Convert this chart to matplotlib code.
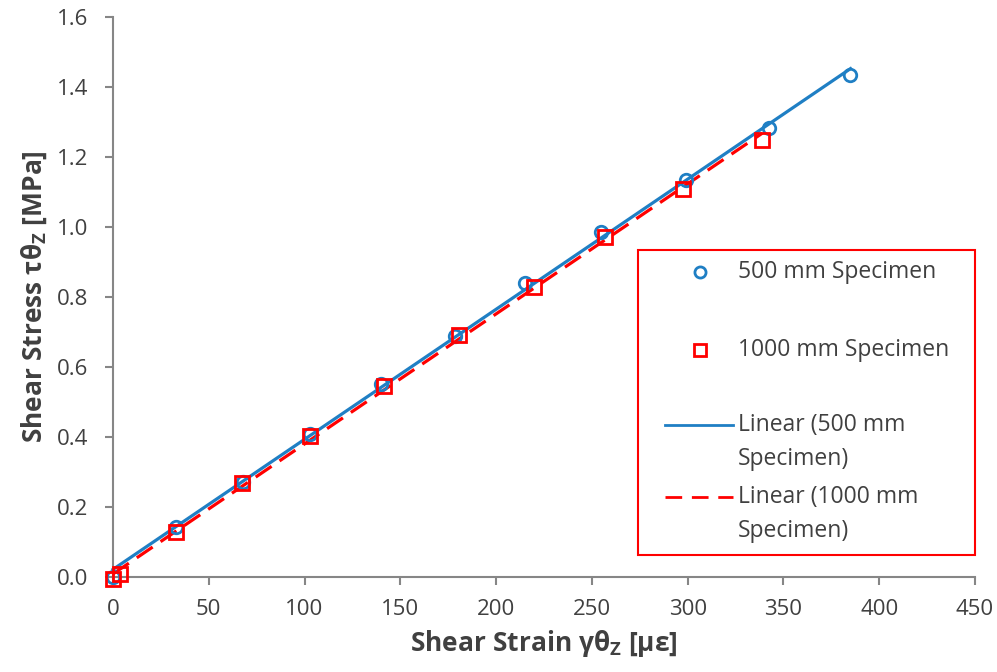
import numpy as np
import matplotlib
matplotlib.use("Agg")
import matplotlib.pyplot as plt
from matplotlib.lines import Line2D
from matplotlib.patches import Rectangle

plt.rcParams['font.family'] = ['Open Sans', 'DejaVu Sans']
plt.rcParams['mathtext.fontset'] = 'custom'
plt.rcParams['mathtext.rm'] = 'Open Sans:bold'
plt.rcParams['mathtext.default'] = 'rm'

strain_500 = [0, 33, 68, 103, 140, 178.5, 215, 255, 299, 342.5, 385]
stress_500 = [0.0, 0.143, 0.272, 0.41, 0.55, 0.69, 0.84, 0.986, 1.134, 1.283, 1.434]
strain_1000 = [0, 3.7, 33, 67.5, 103, 141.5, 180.5, 220, 257, 297.5, 339]
stress_1000 = [-0.005, 0.008, 0.13, 0.268, 0.403, 0.546, 0.691, 0.829, 0.971, 1.109, 1.249]

legend_labels = ['500 mm Specimen', '1000 mm Specimen', 'Linear (500 mm\nSpecimen)',
                 'Linear (1000 mm\nSpecimen)']

blue = '#1f7fc4'
red = '#ff0000'
text_c = '#404040'
dash = (6, 3)

W, H = 997, 672
fig = plt.figure(figsize=(W/100, H/100), dpi=100)
L, R, T, B = 113, 975, 17, 577
ax = fig.add_axes([L/W, 1-B/H, (R-L)/W, (B-T)/H])

ax.plot(strain_500, stress_500, linestyle='none', marker='o', ms=9, mfc='none',
        mec=blue, mew=2, zorder=3)
ax.plot(strain_1000, stress_1000, linestyle='none', marker='s', ms=10, mfc='none',
        mec=red, mew=2, zorder=3)

c5 = np.polyfit(strain_500, stress_500, 1)
c10 = np.polyfit(strain_1000, stress_1000, 1)
x5 = np.array([0, max(strain_500)])
x10 = np.array([0, max(strain_1000)])
ax.plot(x5, np.polyval(c5, x5), color=blue, lw=2.3, zorder=2)
ax.plot(x10, np.polyval(c10, x10), color=red, lw=2.3, dashes=dash, zorder=2)

ax.set_xlim(0, 450)
ax.set_ylim(0, 1.6)
ax.set_xticks(np.arange(0, 451, 50))
ax.set_yticks(np.arange(0, 1.61, 0.2))
ax.set_yticklabels([f'{v:.1f}' for v in np.arange(0, 1.61, 0.2)])
for s in ['top', 'right']:
    ax.spines[s].set_visible(False)
for s in ['left', 'bottom']:
    ax.spines[s].set_color('#868686')
    ax.spines[s].set_linewidth(1.5)
ax.tick_params(axis='both', colors='#868686', labelcolor=text_c, labelsize=16,
               length=5.8, width=1.5)
ax.tick_params(axis='x', pad=10)
ax.tick_params(axis='y', pad=12)
for l in ax.lines:
    l.set_clip_on(False)

ax.set_xlabel('Shear Strain γθ$_Z$ [με]', fontsize=19, fontweight='bold', color=text_c, labelpad=6)
ax.set_ylabel('Shear Stress τθ$_Z$ [MPa]', fontsize=19, fontweight='bold', color=text_c, labelpad=6)

# manual legend (Excel-style, evenly spaced entries)
def ax_xy(px, py):
    return (px - L) / (R - L), (B - py) / (B - T)

fx0, fy0 = ax_xy(638, 555)
fx1, fy1 = ax_xy(975, 250)
ax.add_patch(Rectangle((fx0, fy0), fx1 - fx0, fy1 - fy0, transform=ax.transAxes,
                       fill=True, facecolor='white', edgecolor=red, lw=1.5,
                       zorder=5, clip_on=False))
row_y = [272, 350, 425, 497]
line_gap = 34
hx, _ = ax_xy(700, 0)
lx0, _ = ax_xy(665, 0)
lx1, _ = ax_xy(733, 0)
tx, _ = ax_xy(738, 0)
for i, (lab, py) in enumerate(zip(legend_labels, row_y)):
    _, yy = ax_xy(0, py)
    if i == 0:
        ax.add_line(Line2D([hx], [yy], transform=ax.transAxes, linestyle='none',
                           marker='o', ms=8, mfc='none', mec=blue, mew=2, zorder=6,
                           clip_on=False))
    elif i == 1:
        ax.add_line(Line2D([hx], [yy], transform=ax.transAxes, linestyle='none',
                           marker='s', ms=8, mfc='none', mec=red, mew=2, zorder=6,
                           clip_on=False))
    elif i == 2:
        ax.add_line(Line2D([lx0, lx1], [yy, yy], transform=ax.transAxes, color=blue,
                           lw=2, zorder=6, clip_on=False))
    else:
        ax.add_line(Line2D([lx0, lx1], [yy, yy], transform=ax.transAxes, color=red,
                           lw=2, dashes=(6, 3.5), zorder=6, clip_on=False))
    for j, part in enumerate(lab.split('\n')):
        _, ty = ax_xy(0, py + j * line_gap)
        ax.text(tx, ty, part, transform=ax.transAxes, fontsize=16.5, color=text_c,
                va='center', ha='left', zorder=7)

fig.savefig('out.png', dpi=100)
